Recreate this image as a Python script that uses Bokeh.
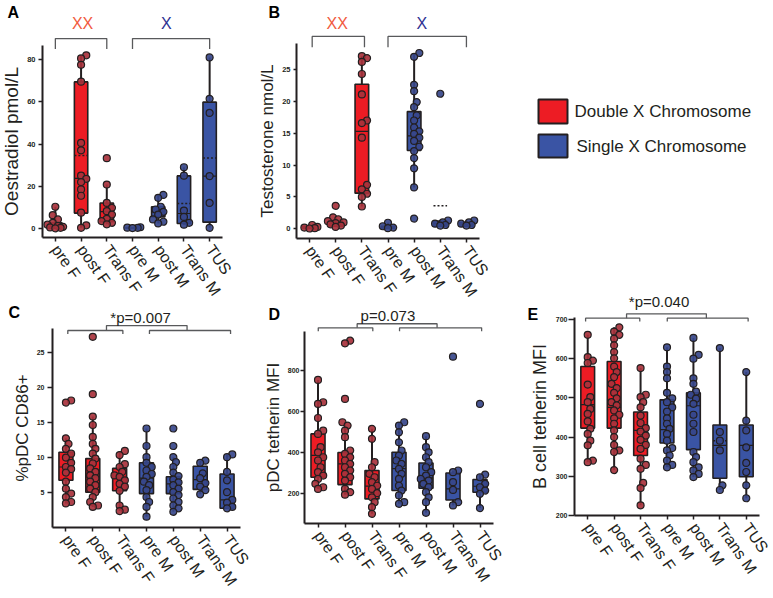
import math
from bokeh.plotting import figure
from bokeh.models import Range1d, FixedTicker, ColumnDataSource
from bokeh.layouts import row, column
from bokeh.embed import file_html
from bokeh.resources import INLINE
from bokeh.core.properties import value

# ---------------- data ----------------
CATS = ["pre F", "post F", "Trans F", "pre M", "post M", "Trans M", "TUS"]
IS_XX = [True, True, True, False, False, False, False]
LEGEND_LABELS = ["Double X Chromosome", "Single X Chromosome"]
GROUP_LABELS = ["XX", "X"]
P_TEXTS = ["*p=0.007", "p=0.073", "*p=0.040"]

# A: Oestradiol pmol/L
A_points = [
    [10.3, 6.3, 4.3, 2.7, 1.8, 1.2, 0.8, 0.5, 0.3, 0.1],
    [82, 80.5, 77.5, 69.5, 40.5, 37, 25, 23.5, 22, 18.5, 15.5, 7.5, 1.5, 0.3],
    [33.3, 20.8, 12.1, 9.8, 8.2, 6.6, 4.6, 3.5, 2.7, 2.0],
    [0.6, 0.4, 0.3, 0.2],
    [15.9, 14.5, 10.3, 9.0, 7.9, 6.6, 4.3, 3.2, 2.4],
    [29, 25, 8.5, 5.5, 2.7, 1.8],
    [81, 61.4, 54.7, 24.8, 12.1, 0.3],
]
A_q1 = [0.1, 7.3, 3.2, 0.15, 5.5, 2.4, 3.0]
A_med = [1.1, 23.7, 8.0, 0.3, 7.9, 7.1, 24.8]
A_q3 = [2.7, 69.4, 12.1, 0.5, 10.3, 24.9, 59.8]
A_lo = [0.1, 0.3, 2.0, 0.1, 2.4, 1.8, 0.3]
A_hi = [10.3, 82, 20.8, 0.6, 15.9, 29, 81]
A_mean = [None, 34.5, None, None, None, 11.8, 33.4]
A_ticks = [0, 20, 40, 60, 80]

# B: Testosterone nmol/L
B_points = [
    [0.6, 0.3, 0.2, 0.1, 0.05],
    [3.6, 1.8, 1.5, 1.2, 1.0, 0.9, 0.7, 0.5, 0.3],
    [27.1, 26.8, 26.2, 24.3, 21.1, 17.0, 16.6, 14.3, 6.9, 6.2, 5.5, 5.0, 3.5],
    [0.95, 0.4, 0.2, 0.1],
    [27.6, 27.0, 22.6, 21.6, 19.9, 19.1, 17.8, 17.0, 15.9, 15.3, 14.9, 14.3, 13.8, 12.9, 12.2, 11.1, 9.5, 6.5, 1.6],
    [21.2, 1.3, 1.0, 0.8, 0.6, 0.5],
    [1.3, 1.0, 0.8, 0.6, 0.5],
]
B_q1 = [0.05, 0.4, 5.6, 0.05, 12.3, 0.4, 0.4]
B_med = [0.2, 0.9, 15.3, 0.2, 14.6, 0.8, 0.7]
B_q3 = [0.4, 1.3, 22.7, 0.4, 18.4, 1.2, 1.0]
B_lo = [0.05, 0.3, 3.5, 0.05, 6.5, 0.5, 0.5]
B_hi = [0.6, 1.8, 27.1, 0.95, 27.6, 1.3, 1.3]
B_mean = [None, None, None, None, None, 3.6, None]
B_ticks = [0, 5, 10, 15, 20, 25]

# C: %pDC CD86+
C_points = [
    [18.1, 17.8, 12.7, 11.9, 11.2, 10.5, 9.95, 9.2, 8.6, 8.3, 7.8, 6.5, 5.5, 4.8, 4.3, 3.6, 3.4],
    [27.2, 19.0, 15.8, 14.6, 12.9, 11.9, 11.2, 10.5, 9.8, 9.1, 8.4, 7.9, 7.4, 7.0, 6.5, 6.0, 5.5, 5.0, 4.3, 3.6, 3.1, 2.9],
    [10.9, 10.3, 9.0, 8.6, 7.9, 7.4, 7.2, 6.7, 6.2, 5.8, 5.2, 3.1, 2.5, 2.3],
    [14.1, 11.6, 10.0, 9.2, 8.6, 8.1, 7.6, 7.2, 6.5, 6.0, 5.3, 4.3, 3.6, 2.9, 1.5],
    [14.1, 11.6, 10.0, 9.3, 8.6, 7.8, 7.3, 6.8, 6.4, 6.0, 5.5, 5.0, 4.6, 4.1, 3.6, 3.1, 2.7, 2.2],
    [9.5, 9.2, 7.7, 7.0, 6.3, 5.8, 5.3, 4.7],
    [10.4, 10.0, 7.9, 6.7, 5.0, 3.9, 3.5, 2.9, 2.7],
]
C_q1 = [6.7, 5.0, 5.2, 4.8, 4.8, 5.4, 2.7]
C_med = [8.6, 7.2, 7.0, 7.0, 6.2, 6.8, 3.9]
C_q3 = [10.7, 9.8, 8.4, 9.2, 7.2, 8.7, 7.6]
C_lo = [3.4, 2.9, 2.3, 1.5, 2.2, 4.7, 2.7]
C_hi = [12.7, 15.8, 10.9, 14.1, 10.0, 9.5, 10.4]
C_mean = [None] * 7
C_ticks = [5, 10, 15, 20, 25]

# D: pDC tetherin MFI
D_points = [
    [754, 645, 637, 568, 506, 490, 425, 400, 376, 360, 327, 303, 286, 270, 246, 229, 221],
    [946, 933, 661, 547, 531, 506, 474, 409, 392, 376, 360, 343, 327, 311, 295, 278, 262, 221, 205, 193],
    [515, 466, 352, 327, 295, 278, 254, 237, 221, 200, 180, 156, 132, 99],
    [547, 531, 498, 449, 409, 384, 360, 343, 319, 295, 270, 237, 213, 189, 156, 148],
    [479, 425, 400, 376, 352, 327, 303, 286, 270, 262, 246, 229, 205, 180, 156, 104],
    [868, 311, 303, 254, 216, 156, 140],
    [637, 291, 278, 246, 229, 213, 197, 127],
]
D_q1 = [278, 242, 172, 213, 224, 167, 205]
D_med = [385, 343, 235, 320, 275, 221, 234]
D_q3 = [490, 399, 311, 400, 348, 299, 267]
D_lo = [221, 193, 99, 148, 104, 140, 127]
D_hi = [754, 547, 515, 547, 479, 311, 291]
D_mean = [None] * 7
D_ticks = [200, 400, 600, 800]

# E: B cell tetherin MFI
E_points = [
    [661, 604, 595, 589, 534, 502, 489, 472, 459, 440, 421, 408, 391, 379, 340, 336],
    [680, 669, 661, 651, 634, 617, 601, 580, 566, 553, 536, 525, 513, 499, 489, 481, 468, 457, 448, 434, 417, 400, 380, 366, 362, 316],
    [576, 508, 502, 489, 476, 455, 436, 423, 414, 404, 393, 380, 370, 345, 329, 319, 283, 270, 226],
    [629, 580, 566, 550, 513, 499, 489, 476, 465, 448, 434, 421, 408, 391, 372, 366, 353, 340, 329, 323],
    [653, 610, 600, 550, 536, 516, 508, 498, 485, 457, 434, 413, 362, 349, 336, 323, 315, 306, 298],
    [627, 413, 391, 366, 277, 265],
    [566, 442, 417, 374, 334, 311, 277, 244],
]
E_q1 = [423, 423, 353, 385, 368, 295, 299]
E_med = [483, 476, 417, 419, 480, 379, 379]
E_q3 = [580, 593, 464, 495, 513, 431, 431]
E_lo = [336, 316, 226, 323, 298, 265, 244]
E_hi = [661, 680, 576, 629, 653, 627, 566]
E_mean = [None, None, None, None, None, 391, None]
E_ticks = [200, 300, 400, 500, 600, 700]

# ---------------- style ----------------
RED = "#ED1C24"
BLUE = "#3A54A4"
DARK = "#231F20"
RED_PT = "#A8323C"
BLUE_PT = "#37468A"
GRAY = "#58595B"
XX_COLOR = "#F15A40"
X_COLOR = "#2E3192"
FONT = "Liberation Sans"
BOXW = 0.52
XLAB_ANGLE = -0.96


def swarm(vals, ppu, ppc):
    d = 5.2
    step = 2.6
    cands = [0.0]
    for j in range(1, 4):
        cands += [j * step, -j * step]
    placed = []
    res = [0.0] * len(vals)
    order = sorted(range(len(vals)), key=lambda i: vals[i])
    for i in order:
        y = vals[i] * ppu
        best, bestd = 0.0, -1
        for c in cands:
            md = min([math.hypot(c - px, y - py) for px, py in placed] or [99])
            if md >= d:
                best = c
                break
            if md > bestd:
                best, bestd = c, md
        placed.append((best, y))
        res[i] = best / ppc
    return res


def make_panel(letter, letter_px, fig_box, frame_box, cal, axis_top_px, ticks, ylabel, ylab_size,
               pts, q1, med, q3, lo, hi, mean, tick_size, tick_out, label_standoff, axlab_standoff):
    fx, fy, fw, fh = fig_box
    l, r, t, b = frame_box
    py0, v0, k = cal
    n = len(CATS)
    ppc = (r - l) / n

    def v(py):
        return v0 + (py0 - py) / k

    def u(px):
        return (px - l) / ppc

    p = figure(width=fw, height=fh, title=None,
               x_range=Range1d(u(fx), u(fx + fw)),
               y_range=Range1d(v(fy + fh), v(fy)),
               output_backend="svg", toolbar_location=None, min_border=0)
    p.outline_line_color = None
    p.xgrid.visible = False
    p.ygrid.visible = False
    p.background_fill_color = "white"
    p.border_fill_color = "white"

    xax = p.xaxis[0]
    yax = p.yaxis[0]
    for ax in (xax, yax):
        ax.axis_line_color = DARK
        ax.axis_line_width = 2
        ax.major_tick_line_color = DARK
        ax.major_tick_line_width = 1.5
        ax.major_tick_in = 0
        ax.minor_tick_line_color = None
    # y axis pinned at the left edge of the plotting area
    yax.fixed_location = 0.0
    yax.bounds = (v(b), v(axis_top_px))
    yax.ticker = FixedTicker(ticks=ticks)
    yax.major_tick_out = tick_out
    yax.major_label_text_font = FONT
    yax.major_label_text_font_style = "bold"
    yax.major_label_text_font_size = tick_size
    yax.major_label_text_color = DARK
    yax.major_label_standoff = label_standoff
    yax.axis_label = ylabel
    yax.axis_label_text_font = FONT
    yax.axis_label_text_font_style = "normal"
    yax.axis_label_text_font_size = ylab_size
    yax.axis_label_text_color = DARK
    yax.axis_label_standoff = axlab_standoff
    # x axis pinned at the bottom of the plotting area, categories as ticks
    xc = [i + 0.5 for i in range(n)]
    xax.fixed_location = v(b)
    xax.bounds = (0.0, float(n))
    xax.ticker = FixedTicker(ticks=xc)
    xax.major_label_overrides = {x: c for x, c in zip(xc, CATS)}
    xax.major_tick_out = 4
    xax.major_label_orientation = XLAB_ANGLE
    xax.major_label_text_font = FONT
    xax.major_label_text_font_size = "16px"
    xax.major_label_text_color = DARK
    xax.major_label_standoff = 5

    fill = [RED if g else BLUE for g in IS_XX]
    ptfill = [RED_PT if g else BLUE_PT for g in IS_XX]

    p.segment(x0=xc + xc, y0=q3 + q1, x1=xc + xc, y1=hi + lo, line_color=DARK, line_width=2)
    p.vbar(x=xc, bottom=q1, top=q3, width=BOXW, fill_color=fill,
           line_color=DARK, line_width=1.6)
    p.segment(x0=[x - BOXW / 2 for x in xc], x1=[x + BOXW / 2 for x in xc],
              y0=med, y1=med, line_color=DARK, line_width=1.2)
    mi = [i for i, m in enumerate(mean) if m is not None]
    if mi:
        p.segment(x0=[xc[i] - BOXW / 2 for i in mi], x1=[xc[i] + BOXW / 2 for i in mi],
                  y0=[mean[i] for i in mi], y1=[mean[i] for i in mi],
                  line_color=DARK, line_width=1.5, line_dash="2 2")

    xs, ys, cs = [], [], []
    for i, vals in enumerate(pts):
        offs = swarm(vals, k, ppc)
        for val, o in zip(vals, offs):
            xs.append(xc[i] + o)
            ys.append(val)
            cs.append(ptfill[i])
    src = ColumnDataSource(dict(x=xs, y=ys, c=cs))
    p.scatter("x", "y", source=src, size=7, fill_color="c", fill_alpha=0.92,
              line_color=DARK, line_width=1.2)

    lx, ly = letter_px
    p.text(x=[u(lx)], y=[v(ly)], text=[letter], text_color="black", text_font=value(FONT),
           text_font_style="bold", text_font_size=value("16px"),
           text_align="left", text_baseline="top")
    return p


def bracket(p, x0, x1, ytop, yleg):
    p.multi_line(xs=[[x0, x0, x1, x1]], ys=[[yleg, ytop, ytop, yleg]],
                 line_color=GRAY, line_width=1.3)


def ptext(p, xs, ys, texts, colors, size):
    p.text(x=xs, y=ys, text=texts, text_color=colors, text_font=value(FONT),
           text_font_size=value(size), text_align="center", text_baseline="middle")


# ---------------- panels ----------------
pA = make_panel("A", (7, 3), (0, 0, 240, 300), (42, 222, 12, 237), (228, 0, 2.1125), 45,
                A_ticks, "Oestradiol pmol/L", "19px",
                A_points, A_q1, A_med, A_q3, A_lo, A_hi, A_mean, "7.5px", 4, 3, 2)
bracket(pA, 0.5, 2.5, 89.9, 85.0)
bracket(pA, 3.5, 6.5, 89.9, 85.0)
ptext(pA, [1.56, 4.82], [97.0, 97.0], GROUP_LABELS, [XX_COLOR, X_COLOR], "16px")

pB = make_panel("B", (268, 3), (240, 0, 270, 300), (296, 479, 12, 238), (228.3, 0, 6.37), 43,
                B_ticks, "Testosterone nmol/L", "17px",
                B_points, B_q1, B_med, B_q3, B_lo, B_hi, B_mean, "7.5px", 3, 3, 2)
bracket(pB, 0.6, 2.6, 30.2, 28.5)
bracket(pB, 3.5, 6.5, 30.2, 28.5)
ptext(pB, [1.56, 4.79], [32.2, 32.2], GROUP_LABELS, [XX_COLOR, X_COLOR], "16px")

pC = make_panel("C", (8, 303), (0, 300, 255, 298), (52, 240, 306, 527), (491.7, 5, 7.0), 328,
                C_ticks, "%pDC CD86+", "17px",
                C_points, C_q1, C_med, C_q3, C_lo, C_hi, C_mean, "7px", 5, 3, 2)
bracket(pC, 0.57, 2.62, 28.1, 27.6)
bracket(pC, 3.61, 6.63, 28.1, 27.6)
bracket(pC, 2.01, 5.01, 28.8, 28.1)
ptext(pC, [3.28], [29.96], [P_TEXTS[0]], [DARK], "15px")

pD = make_panel("D", (268, 305), (255, 300, 255, 298), (304, 493, 306, 523), (492.7, 200, 0.2044), 331,
                D_ticks, "pDC tetherin MFI", "17px",
                D_points, D_q1, D_med, D_q3, D_lo, D_hi, D_mean, "7px", 4, 1, 2)
bracket(pD, 0.51, 2.53, 1009, 992)
bracket(pD, 3.52, 6.56, 1009, 992)
bracket(pD, 1.95, 4.91, 1029, 1009)
ptext(pD, [3.09], [1067], [P_TEXTS[1]], [DARK], "15px")

pE = make_panel("E", (527, 305), (510, 292, 263, 306), (574, 759, 294, 515), (515, 200, 0.392), 317,
                E_ticks, "B cell tetherin MFI", "18px",
                E_points, E_q1, E_med, E_q3, E_lo, E_hi, E_mean, "7px", 6, 1, 3)
bracket(pE, 0.42, 2.47, 703.3, 695)
bracket(pE, 3.51, 6.57, 703.3, 695)
bracket(pE, 1.97, 4.99, 714.5, 703.3)
ptext(pE, [3.2], [745.9], [P_TEXTS[2]], [DARK], "15px")

# legend panel (pixel-mapped canvas: x right, y down)
pL = figure(width=263, height=292, title=None, x_range=Range1d(0, 263), y_range=Range1d(292, 0),
            output_backend="svg", toolbar_location=None, min_border=0,
            x_axis_type=None, y_axis_type=None)
pL.outline_line_color = None
pL.xgrid.visible = False
pL.ygrid.visible = False
pL.rect(x=[42.5, 42.5], y=[111, 145.5], width=29, height=[24, 23],
        fill_color=[RED, BLUE], line_color=DARK, line_width=2)
pL.text(x=[64, 66], y=[111, 146], text=LEGEND_LABELS, text_color=DARK,
        text_font=value(FONT), text_font_size=value("17px"),
        text_align="left", text_baseline="middle")

layout = row(column(row(pA, pB), row(pC, pD)), column(pL, pE))
open("out.html", "w").write(file_html(layout, INLINE))
